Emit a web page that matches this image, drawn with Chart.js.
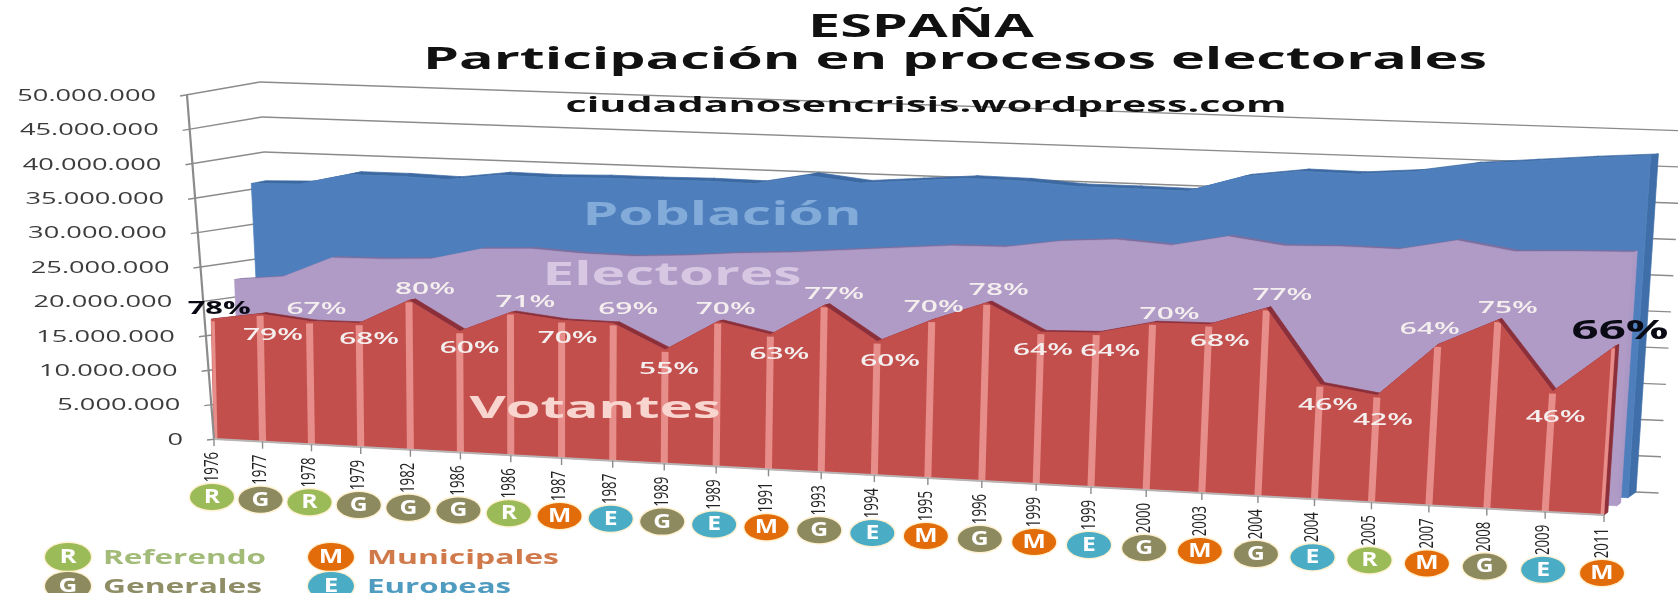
<!DOCTYPE html>
<html>
<head>
<meta charset="utf-8">
<title>España - Participación en procesos electorales</title>
<script src="https://cdn.jsdelivr.net/npm/chart.js@4"></script>
<style>
  html, body { margin: 0; padding: 0; background: #fff; }
  canvas { display: block; filter: blur(0.6px); }
</style>
</head>
<body>
<canvas id="myChart" width="1678" height="593"></canvas>
<script>
// values
const years = ['1976','1977','1978','1979','1982','1986','1986','1987','1987','1989','1989','1991','1993','1994','1995','1996','1999','1999','2000','2003','2004','2004','2005','2007','2008','2009','2011'];
const tipos = ['R','G','R','G','G','G','R','M','E','G','E','M','G','E','M','G','M','E','G','M','G','E','R','M','G','E','M'];
const poblacion = [35.9,36.1,37.7,37.7,37.5,38.4,38.3,38.5,38.5,38.6,38.5,39.9,39.1,39.7,40.3,40.2,39.7,39.7,39.6,41.9,42.9,42.8,43.4,44.7,45.4,46.1,46.7];
const electores = [22.6,23.3,26.3,26.4,26.7,28.4,28.7,28.3,28.2,28.6,29.2,29.6,30.2,30.8,31.4,31.5,32.6,33.1,32.6,34.1,33.1,33.3,33.2,34.7,33.5,33.8,34.0];
const votantes = [17.4,18.5,17.75,17.8,21.4,17.3,20.3,19.5,19.4,16.0,20.3,18.8,23.2,18.5,21.8,24.5,20.8,21.0,22.7,22.8,25.3,15.4,14.3,21.4,25.0,15.9,22.2];
const participacion = [78,79,67,68,80,60,71,70,69,55,70,63,77,60,70,78,64,64,70,68,77,46,42,64,75,46,66];

// where each % label sits relative to its point
const pctDx = [8,13,7,10,16,10,15,6,15,4,8,9,10,13,2,12,2,14,17,11,16,8,6,-8,10,3,5];
const pctDy = [-10,21,-12,16,-11,17,-10,18,-14,19,-12,20,-11,20,-13,-13,18,18,-9,17,-13,21,25,-16,-12,26,-15];

const M = 1000000;
const tipoColor = { R: '#9bbb59', G: '#8c8a5e', M: '#e36c0a', E: '#4bacc6' };
const leyenda = [
  { k: 'R', text: 'Referendo',   x: 68,  y: 557, tx: 103, w: 163, color: '#a3bb78' },
  { k: 'M', text: 'Municipales', x: 331, y: 557, tx: 367, w: 192, color: '#d0794a' },
  { k: 'G', text: 'Generales',   x: 68,  y: 586, tx: 103, w: 159, color: '#8f8d66' },
  { k: 'E', text: 'Europeas',    x: 331, y: 586, tx: 367, w: 144, color: '#4f9cc0' }
];

// 3D box corners: d=0 is the front plane, d=1 the back wall
const front = { bl: [214,439], br: [1604,515], tl: [206,95], tr: [1629,135] };
const back  = { bl: [280,432], br: [1636,492], tl: [260,82], tr: [1660,130] };
const axisTop = [187,95];   // the value axis leans more than the series do
const foreshorten = 1.105;

function lerp(a, b, t) { return [a[0] + (b[0]-a[0])*t, a[1] + (b[1]-a[1])*t]; }

// scale pixels -> picture pixels at depth d
function project(area, px, py, d) {
  const u = (px - area.left) / area.width;
  const v = (area.bottom - py) / area.height;
  const f = u / (u + (1-u)*foreshorten);
  const bot = lerp(lerp(front.bl, back.bl, d), lerp(front.br, back.br, d), f);
  const top = lerp(lerp(front.tl, back.tl, d), lerp(front.tr, back.tr, d), f);
  return lerp(bot, top, v);
}

function axisPoint(area, py) {
  return lerp(front.bl, axisTop, (area.bottom - py) / area.height);
}

function poly(ctx, pts, color) {
  ctx.beginPath();
  pts.forEach((p, i) => i ? ctx.lineTo(p[0], p[1]) : ctx.moveTo(p[0], p[1]));
  ctx.closePath();
  ctx.fillStyle = color;
  ctx.fill();
  ctx.strokeStyle = color;
  ctx.lineWidth = 0.7;
  ctx.stroke();
}

function line(ctx, a, b, color, w) {
  ctx.beginPath();
  ctx.moveTo(a[0], a[1]);
  ctx.lineTo(b[0], b[1]);
  ctx.strokeStyle = color;
  ctx.lineWidth = w;
  ctx.stroke();
}

// the reference text is stretched, so text gets a horizontal scale
function stretched(ctx, txt, o) {
  ctx.save();
  ctx.font = o.font;
  ctx.fillStyle = o.color;
  ctx.textAlign = o.align || 'center';
  ctx.textBaseline = o.base || 'alphabetic';
  ctx.translate(o.x, o.y);
  if (o.rot) ctx.rotate(o.rot);
  const sx = o.w ? o.w / ctx.measureText(txt).width : (o.sx || 1);
  ctx.scale(sx, 1);
  ctx.fillText(txt, 0, 0);
  ctx.restore();
}

function badge(ctx, k, x, y, rx, ry) {
  ctx.save();
  ctx.beginPath();
  ctx.ellipse(x, y, rx + 1.5, ry + 1.5, 0, 0, Math.PI*2);
  ctx.fillStyle = 'rgba(255,235,190,0.7)';
  ctx.fill();
  ctx.beginPath();
  ctx.ellipse(x, y, rx, ry, 0, 0, Math.PI*2);
  ctx.fillStyle = tipoColor[k];
  ctx.fill();
  ctx.restore();
  stretched(ctx, k, { x: x, y: y + 0.5, sx: 1.3, font: 'bold ' + Math.round(ry*1.45) + 'px "Open Sans"', color: '#fff', base: 'middle' });
}

const box3d = {
  id: 'box3d',
  beforeDatasetsDraw(chart) {
    const ctx = chart.ctx, a = chart.chartArea, y = chart.scales.y;
    const left = a.left, right = a.right;
    ctx.save();
    ctx.lineCap = 'butt';

    // walls
    y.ticks.forEach(t => {
      const py = y.getPixelForValue(t.value);
      const p0 = axisPoint(a, py);
      const p1 = project(a, left, py, 1);
      const p2 = project(a, right + a.width*0.015, py, 1);
      line(ctx, [p0[0]-7, p0[1]+1], p1, '#8b8b8b', 1.4);
      line(ctx, p1, p2, '#8b8b8b', 1.4);
    });

    // series, back to front
    const layers = [
      { i: 0, df: 0.75, db: 1,    face: '#4e7fbc', top: '#3c69a2', side: '#3f6ea8' },
      { i: 1, df: 0.4,  db: 0.52, face: '#b09bc6', top: '#7d6e9f', side: '#ab98c4' },
      { i: 2, df: 0,    db: 0.12, face: '#c34f4c', top: '#8b2f3a', side: '#8b2f3a' }
    ];
    const base = y.getPixelForValue(0);
    layers.forEach(l => {
      const pts = chart.getDatasetMeta(l.i).data;
      const n = pts.length - 1;
      // top faces
      for (let k = 0; k < n; k++) {
        poly(ctx, [
          project(a, pts[k].x, pts[k].y, l.df),
          project(a, pts[k+1].x, pts[k+1].y, l.df),
          project(a, pts[k+1].x, pts[k+1].y, l.db),
          project(a, pts[k].x, pts[k].y, l.db)
        ], l.top);
      }
      // right side
      poly(ctx, [
        project(a, pts[n].x, base, l.df),
        project(a, pts[n].x, pts[n].y, l.df),
        project(a, pts[n].x, pts[n].y, l.db),
        project(a, pts[n].x, base, l.db)
      ], l.side);
      // front
      const faceP = [project(a, pts[0].x, base, l.df)];
      pts.forEach(p => faceP.push(project(a, p.x, p.y, l.df)));
      faceP.push(project(a, pts[n].x, base, l.df));
      poly(ctx, faceP, l.face);

      if (l.i === 2) {
        // pale drop lines on the red front
        ctx.save();
        ctx.beginPath();
        faceP.forEach((p, i) => i ? ctx.lineTo(p[0], p[1]) : ctx.moveTo(p[0], p[1]));
        ctx.closePath();
        ctx.clip();
        pts.forEach(p => {
          line(ctx, project(a, p.x, base, 0), project(a, p.x, p.y + 2, 0), '#e88e8a', 7);
        });
        ctx.restore();
      }
    });

    // axis lines
    line(ctx, axisPoint(a, a.top), axisPoint(a, a.bottom), '#8b8b8b', 2.2);
    line(ctx, project(a, left, a.bottom, 0), project(a, right, a.bottom, 0), '#b9b4b4', 2.2);
    ctx.restore();
  },
  afterDatasetsDraw(chart) {
    const ctx = chart.ctx, a = chart.chartArea, y = chart.scales.y, x = chart.scales.x;

    // y ticks
    y.ticks.forEach(t => {
      const py = y.getPixelForValue(t.value);
      const p = axisPoint(a, py);
      stretched(ctx, t.label, { x: p[0] - 31, y: p[1] + 1, sx: 1.6, align: 'right', base: 'middle', font: '17px "Open Sans"', color: '#3c3c3c' });
    });

    // x ticks, year labels and type badges
    x.ticks.forEach((t, i) => {
      const p = project(a, x.getPixelForTick(i), a.bottom, 0);
      line(ctx, p, [p[0], p[1] + 7], '#8b8b8b', 1.4);
      stretched(ctx, t.label, { x: p[0] - 2, y: p[1] + 13, rot: -Math.PI/2, sx: 0.66, align: 'right', base: 'middle', font: '20px "Open Sans"', color: '#222' });
      badge(ctx, tipos[i], p[0] - 2, p[1] + 58, 22, 13);
    });

    // % labels
    const pts = chart.getDatasetMeta(2).data;
    pts.forEach((p, i) => {
      const q = project(a, p.x, p.y, 0);
      const black = i === 0 || i === pts.length - 1;
      const big = i === pts.length - 1;
      stretched(ctx, participacion[i] + '%', {
        x: q[0] + pctDx[i], y: q[1] + pctDy[i], base: 'middle',
        w: big ? 97 : (black ? 63 : 60),
        font: (big ? 'bold 27px' : (black ? 'bold 17px' : '600 17px')) + ' "Open Sans"',
        color: black ? '#0a0a14' : '#f4eeee'
      });
    });

    // series names on the faces
    stretched(ctx, 'Población', { x: 722, y: 225, w: 279, font: 'bold 32px "Open Sans"', color: '#82abd9' });
    stretched(ctx, 'Electores', { x: 672, y: 285, w: 259, font: 'bold 32px "Open Sans"', color: '#d7c7e2' });
    stretched(ctx, 'Votantes',  { x: 595, y: 418, w: 251, font: 'bold 31px "Open Sans"', color: '#f9d5d0' });

    // title
    stretched(ctx, 'ESPAÑA', { x: 921, y: 37, w: 226, font: 'bold 32px "Open Sans"', color: '#111' });
    stretched(ctx, 'Participación en procesos electorales', { x: 955, y: 69, w: 1064, font: 'bold 30px "Open Sans"', color: '#111' });
    stretched(ctx, 'ciudadanosencrisis.wordpress.com', { x: 926, y: 112, w: 721, font: 'bold 22px "Open Sans"', color: '#111' });

    // legend
    leyenda.forEach(l => {
      badge(ctx, l.k, l.x, l.y, 23, 14);
      stretched(ctx, l.text, { x: l.tx, y: l.y + 2, w: l.w, align: 'left', base: 'middle', font: 'bold 19px "Open Sans"', color: l.color });
    });
  }
};

const ctx = document.getElementById('myChart');

new Chart(ctx, {
  type: 'line',
  data: {
    labels: years,
    datasets: [
      { label: 'Población', data: poblacion.map(v => v*M), borderColor: '#4e7fbc', backgroundColor: '#4e7fbc' },
      { label: 'Electores', data: electores.map(v => v*M), borderColor: '#b09bc6', backgroundColor: '#b09bc6' },
      { label: 'Votantes',  data: votantes.map(v => v*M),  borderColor: '#c34f4c', backgroundColor: '#c34f4c' }
    ]
  },
  options: {
    responsive: false,
    animation: false,
    showLine: false,
    pointRadius: 0,
    layout: { padding: { top: 95, right: 74, left: 0, bottom: 0 } },
    plugins: { legend: { display: false }, tooltip: { enabled: false } },
    elements: { point: { radius: 0 }, line: { borderWidth: 0 } },
    scales: {
      x: {
        offset: false,
        grid: { display: false },
        border: { display: false },
        ticks: { display: false, autoSkip: false },
        afterFit(s) { s.height = 154; }
      },
      y: {
        min: 0,
        max: 50*M,
        grid: { display: false },
        border: { display: false },
        ticks: {
          display: false,
          stepSize: 5*M,
          callback: v => String(v).replace(/\B(?=(\d{3})+$)/g, '.')
        },
        afterFit(s) { s.width = 214; }
      }
    }
  },
  plugins: [box3d]
});
</script>
</body>
</html>
